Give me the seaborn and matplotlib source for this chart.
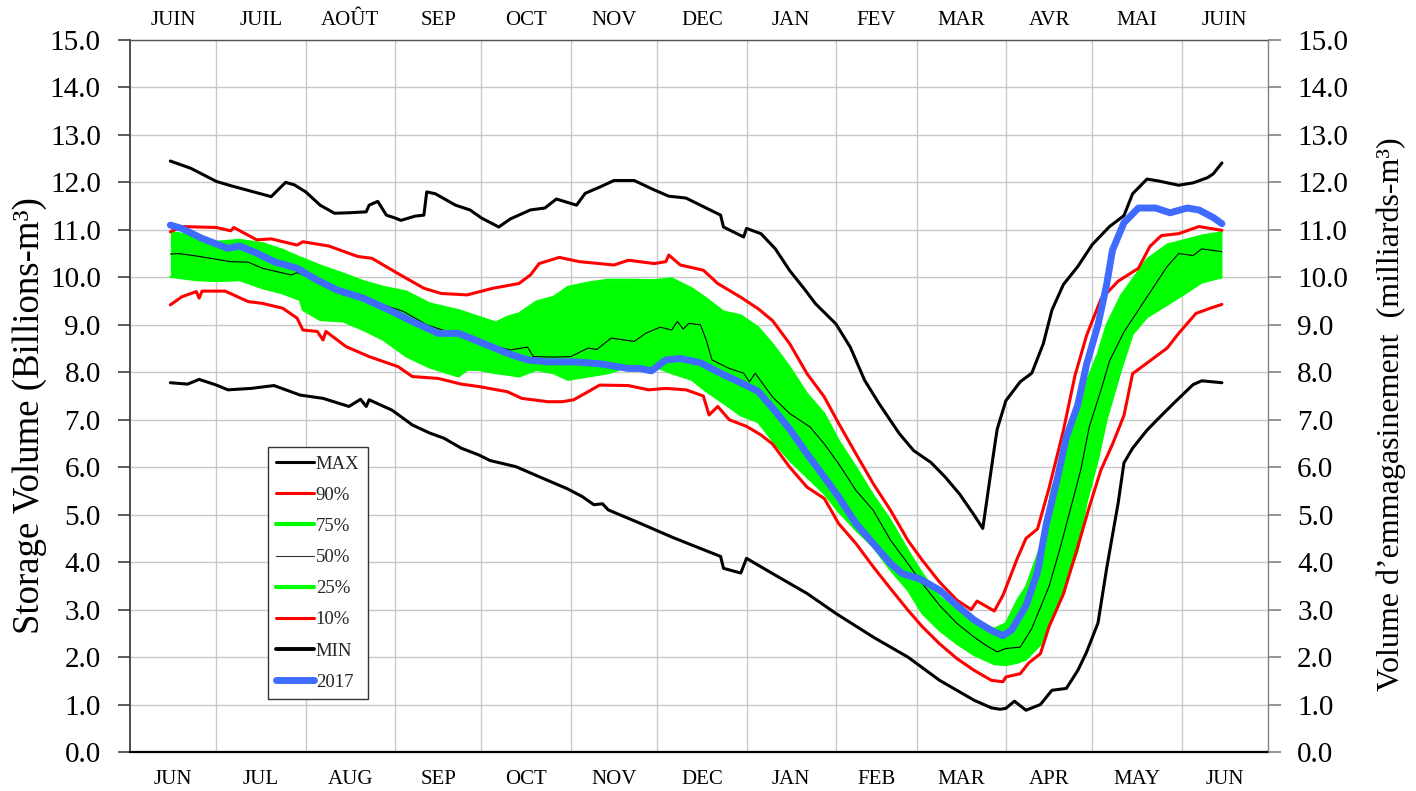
import numpy as np
import pandas as pd
import matplotlib
matplotlib.use("Agg")
import matplotlib.pyplot as plt
from matplotlib.lines import Line2D
import seaborn as sns

# ---------------- data (day = days since 1 June) ----------------
month_len = [30, 31, 31, 30, 31, 30, 31, 31, 28, 31, 30, 31, 30]
top_labels = ["JUIN", "JUIL", "AOÛT", "SEP", "OCT", "NOV", "DEC", "JAN", "FEV", "MAR", "AVR", "MAI", "JUIN"]
bottom_labels = ["JUN", "JUL", "AUG", "SEP", "OCT", "NOV", "DEC", "JAN", "FEB", "MAR", "APR", "MAY", "JUN"]
y_ticks = list(range(0, 16))

max_day = [14,21,30,35,49,54,57,61,66,71,76,82,83,86,89,92,94,99,102,103,106,113,118,122,128,132,139,144,148,155,
           158,163,168,175,182,187,193,200,205,206,213,214,219,224,229,234,238,245,250,255,260,267,272,278,283,288,
           293,296,300,301,304,309,313,317,320,324,329,334,340,345,348,353,357,364,369,374,376,379]
max_val = [12.45,12.30,12.02,11.93,11.70,12.00,11.95,11.80,11.52,11.35,11.36,11.38,11.52,11.60,11.31,11.25,11.20,11.29,
           11.31,11.80,11.76,11.52,11.42,11.25,11.06,11.23,11.42,11.46,11.65,11.52,11.77,11.90,12.04,12.04,11.84,11.71,
           11.67,11.46,11.31,11.06,10.85,11.03,10.92,10.60,10.14,9.76,9.44,9.02,8.53,7.83,7.34,6.71,6.35,6.10,5.79,5.43,
           4.99,4.71,6.40,6.80,7.40,7.80,7.98,8.60,9.31,9.85,10.23,10.69,11.07,11.30,11.76,12.07,12.03,11.94,11.99,
           12.10,12.18,12.41]

p90_day = [14,18,30,35,36,44,49,58,60,69,79,84,93,102,108,117,126,135,139,142,149,156,168,173,182,186,187,191,199,204,
           212,218,223,229,235,241,246,252,258,264,270,275,281,287,292,294,300,303,308,311,315,319,324,328,332,337,343,
           350,354,358,364,371,379]
p90_val = [10.96,11.07,11.05,10.98,11.05,10.79,10.81,10.68,10.75,10.66,10.44,10.40,10.08,9.77,9.66,9.63,9.77,9.87,10.05,
           10.29,10.42,10.33,10.26,10.36,10.29,10.33,10.47,10.26,10.15,9.87,9.58,9.34,9.09,8.60,7.97,7.48,6.92,6.28,5.65,
           5.09,4.46,4.04,3.58,3.20,3.00,3.18,2.97,3.30,4.08,4.50,4.70,5.56,6.78,7.93,8.77,9.54,9.92,10.19,10.65,10.88,
           10.92,11.07,10.99]

band_day = [14,23,30,38,46,53,59,60,66,74,81,88,96,104,114,117,121,127,131,135,141,147,152,159,166,173,182,188,195,200,
            206,212,218,223,229,235,241,246,252,258,264,270,275,281,287,293,300,304,308,311,316,320,325,329,332,336,339,
            344,348,353,360,367,372,379]
p75_val = [10.96,10.87,10.75,10.79,10.72,10.58,10.42,10.40,10.25,10.08,9.92,9.80,9.70,9.45,9.31,9.25,9.17,9.05,9.17,9.24,
           9.49,9.59,9.80,9.89,9.95,9.95,9.94,9.98,9.77,9.56,9.28,9.20,8.95,8.60,8.11,7.55,7.13,6.56,6.00,5.41,4.88,4.25,
           3.76,3.27,2.99,2.74,2.60,2.71,3.20,3.48,4.32,5.55,6.40,7.10,7.80,8.40,9.00,9.62,9.96,10.38,10.69,10.80,10.88,
           10.95]
p25_val = [10.01,9.94,9.92,9.94,9.77,9.66,9.52,9.31,9.10,9.07,8.89,8.68,8.33,8.10,7.91,8.05,8.05,7.98,7.95,7.91,8.05,7.98,
           7.84,7.91,7.98,8.12,8.12,7.98,7.84,7.60,7.35,7.09,6.95,6.56,6.14,5.79,5.44,5.06,4.67,4.32,3.83,3.41,2.92,2.56,
           2.28,2.04,1.85,1.83,1.88,1.95,2.26,2.87,3.56,4.25,5.25,6.17,7.01,8.05,8.80,9.16,9.42,9.69,9.89,10.00]

p50_day = [14,17,23,35,41,46,51,56,58,65,74,81,88,95,103,110,119,127,132,138,140,147,153,159,162,167,175,179,184,188,
           190,192,194,198,200,202,208,213,215,217,223,229,236,241,246,252,258,264,270,275,281,287,293,297,301,304,309,
           313,319,323,326,330,333,337,340,345,350,355,360,364,369,372,379]
p50_val = [10.49,10.50,10.45,10.33,10.32,10.19,10.12,10.05,10.10,9.94,9.63,9.59,9.42,9.28,9.00,8.86,8.75,8.54,8.47,8.53,
           8.33,8.32,8.33,8.51,8.48,8.72,8.65,8.82,8.95,8.89,9.07,8.91,9.03,9.00,8.68,8.26,8.08,7.98,7.80,7.98,7.48,7.13,
           6.85,6.49,6.07,5.51,5.09,4.46,3.97,3.55,3.09,2.71,2.42,2.25,2.11,2.18,2.21,2.60,3.49,4.33,5.02,5.94,6.86,7.62,
           8.24,8.85,9.31,9.77,10.23,10.50,10.46,10.60,10.54]

p10_day = [14,18,23,24,25,33,41,46,53,58,60,65,67,68,75,83,93,98,107,115,121,131,136,145,150,154,159,163,173,180,
           186,193,199,201,204,208,214,219,223,229,235,241,246,252,258,264,270,275,281,287,293,299,303,304,309,312,316,
           319,324,329,333,337,341,345,348,354,360,364,370,375,379]
p10_val = [9.42,9.59,9.70,9.56,9.71,9.71,9.49,9.45,9.35,9.14,8.89,8.86,8.68,8.86,8.54,8.33,8.12,7.91,7.87,7.75,7.70,7.59,
           7.45,7.38,7.38,7.42,7.59,7.73,7.72,7.63,7.66,7.63,7.50,7.10,7.28,7.00,6.86,6.68,6.49,6.00,5.58,5.34,4.81,4.39,
           3.90,3.44,2.99,2.64,2.28,1.97,1.72,1.51,1.48,1.58,1.65,1.88,2.07,2.64,3.33,4.33,5.17,5.94,6.48,7.09,7.97,8.24,
           8.51,8.82,9.24,9.35,9.43]

min_day = [14,20,24,30,34,42,50,59,67,76,80,82,83,91,98,104,109,115,121,125,134,142,152,157,161,164,166,177,188,195,
           205,206,212,214,223,235,245,258,270,281,293,299,302,304,307,311,316,320,325,329,332,336,339,343,345,348,353,
           358,363,369,372,379]
min_val = [7.78,7.75,7.85,7.73,7.63,7.66,7.72,7.52,7.45,7.28,7.43,7.28,7.42,7.20,6.89,6.72,6.61,6.40,6.26,6.14,6.01,5.80,
           5.54,5.38,5.21,5.23,5.10,4.82,4.53,4.36,4.12,3.87,3.77,4.08,3.76,3.34,2.92,2.42,2.00,1.51,1.09,0.93,0.90,0.92,
           1.07,0.88,1.00,1.30,1.34,1.72,2.10,2.72,3.87,5.25,6.09,6.40,6.78,7.09,7.39,7.74,7.82,7.78]

y2017_day = [14,18,25,34,38,44,50,58,65,72,81,90,98,107,114,121,131,138,145,154,163,173,177,181,186,191,198,205,212,218,
             223,229,235,241,246,252,258,264,268,274,281,287,293,299,303,306,311,315,318,322,325,329,332,336,339,341,345,
             350,356,361,367,371,376,379]
y2017_val = [11.10,11.03,10.82,10.61,10.66,10.51,10.33,10.19,9.94,9.73,9.56,9.31,9.07,8.82,8.82,8.65,8.40,8.26,8.22,8.22,
             8.18,8.08,8.08,8.03,8.26,8.29,8.20,7.98,7.78,7.60,7.25,6.80,6.28,5.79,5.37,4.81,4.39,3.97,3.76,3.65,3.41,3.09,
             2.78,2.56,2.45,2.57,3.08,3.79,4.79,5.79,6.63,7.32,8.16,9.00,9.85,10.57,11.15,11.46,11.46,11.36,11.46,11.42,
             11.26,11.13]

# ---------------- style ----------------
sns.set_theme(style="white")
plt.rcParams["font.family"] = ["Liberation Serif", "DejaVu Serif"]

GREEN = "#00FF00"
RED = "#FF0000"
BLUE = "#3F6BFF"
GRID = "#C8C8C8"

W, H = 1416, 791
fig = plt.figure(figsize=(W / 100, H / 100), dpi=100)
ax = fig.add_axes([130 / W, 1 - 752 / H, (1268 - 130) / W, (752 - 40) / H])

bounds = np.concatenate([[0], np.cumsum(month_len)])
centers = (bounds[:-1] + bounds[1:]) / 2

# band
ax.fill_between(band_day, p25_val, p75_val, color=GREEN, lw=0, zorder=2)

def line(x, y, color, lw, z):
    sns.lineplot(x=x, y=y, ax=ax, color=color, lw=lw, estimator=None, sort=False, zorder=z)

line(band_day, p75_val, GREEN, 1.5, 3)
line(band_day, p25_val, GREEN, 1.5, 3)
line(p90_day, p90_val, RED, 2.2, 4)
line(p10_day, p10_val, RED, 2.2, 4)
line(max_day, max_val, "black", 2.2, 4)
line(min_day, min_val, "black", 2.2, 4)
line(p50_day, p50_val, "black", 0.8, 5)
line(y2017_day, y2017_val, BLUE, 5, 6)

ax.set_xlim(bounds[0], bounds[-1])
ax.set_ylim(0, 15)

# x ticks: labels at month centres, grid at month boundaries
ax.set_xticks(centers)
ax.set_xticklabels(bottom_labels, fontsize=15, color="black")
ax.set_xticks(bounds[1:-1], minor=True)
ax.tick_params(axis="x", which="both", length=0, pad=13)
ax.grid(which="minor", axis="x", color=GRID, lw=1, zorder=0)

ax.set_yticks(y_ticks)
ax.set_yticklabels([f"{v:.1f}" for v in y_ticks], fontsize=21, color="black")
ax.tick_params(axis="y", which="major", direction="out", length=9, width=1.2, color="#404040", pad=12, left=True)
ax.grid(which="major", axis="y", color=GRID, lw=1, zorder=0)
ax.set_axisbelow(True)

ax.set_xlabel("")
ax.set_ylabel("Storage Volume (Billions-m³)", fontsize=26.5, color="black")
ax.yaxis.set_label_coords(-0.073, 0.473)

ax.spines["left"].set_color("#404040"); ax.spines["left"].set_linewidth(1.3)
ax.spines["bottom"].set_color("black"); ax.spines["bottom"].set_linewidth(1.6)
ax.spines["top"].set_color("#555555"); ax.spines["top"].set_linewidth(1.0)
ax.spines["right"].set_color("#808080"); ax.spines["right"].set_linewidth(1.0)

# right axis
axr = ax.twinx()
axr.set_ylim(0, 15)
axr.set_yticks(y_ticks)
axr.set_yticklabels([f"{v:.1f}" for v in y_ticks], fontsize=21, color="black")
axr.tick_params(axis="y", direction="out", length=9, width=1.2, color="#808080", pad=12, right=True)
axr.set_ylabel("Volume d\u2019emmagasinement  (milliards-m³)", fontsize=23, color="black")
axr.yaxis.set_label_coords(1.095, 0.475)
for s in axr.spines.values():
    s.set_visible(False)
axr.grid(False)

# top axis
axt = ax.twiny()
axt.set_xlim(bounds[0], bounds[-1])
axt.set_xticks(centers)
axt.set_xticklabels(top_labels, fontsize=15, color="black")
axt.tick_params(axis="x", length=0, pad=7)
for s in axt.spines.values():
    s.set_visible(False)
axt.grid(False)

# legend
handles = [
    Line2D([], [], color="black", lw=2.2),
    Line2D([], [], color=RED, lw=2.2),
    Line2D([], [], color=GREEN, lw=3),
    Line2D([], [], color="#333333", lw=0.8),
    Line2D([], [], color=GREEN, lw=3),
    Line2D([], [], color=RED, lw=2.2),
    Line2D([], [], color="black", lw=2.8),
    Line2D([], [], color=BLUE, lw=5),
]
labels = ["MAX", "90%", "75%", "50%", "25%", "10%", "MIN", "2017"]
leg = ax.legend(handles, labels, loc="upper left", bbox_to_anchor=(268 / W, 1 - 447 / H),
                bbox_transform=fig.transFigure, borderaxespad=0, fontsize=13.5, frameon=True,
                fancybox=False, framealpha=1, edgecolor="#333333", handlelength=2.0,
                handletextpad=0.1, labelspacing=0.75, borderpad=0.45)
leg.get_frame().set_linewidth(1.0)
leg.set_zorder(10)

fig.savefig("out.png", dpi=100)
